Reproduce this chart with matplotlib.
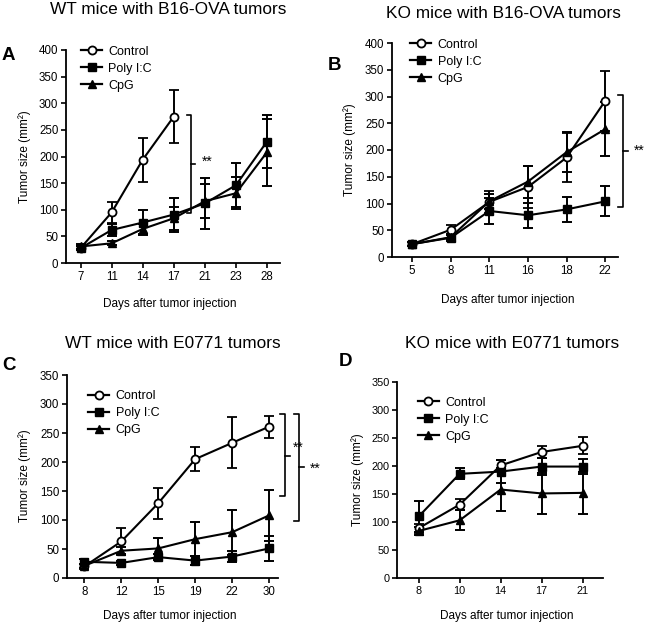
import matplotlib
matplotlib.use("Agg")
import matplotlib.pyplot as plt
from matplotlib.lines import Line2D
import numpy as np

plt.rcParams['font.family'] = ['Liberation Sans', 'DejaVu Sans']

# ---- Panel A: WT mice with B16-OVA tumors ----
days_a = [7, 11, 14, 17, 21, 23, 28]
ctrl_a = [28, 95, 194, 275]
ctrl_a_err = [4, 20, 41, 49]
poly_a = [28, 62, 76, 91, 112, 146, 228]
poly_a_err = [4, 12, 23, 32, 48, 41, 50]
cpg_a = [31, 37, 64, 84, 116, 131, 208]
cpg_a_err = [4, 4, 10, 22, 32, 30, 63]

# ---- Panel B: KO mice with B16-OVA tumors ----
days_b = [5, 8, 11, 16, 18, 22]
ctrl_b = [24, 51, 103, 131, 186, 292]
ctrl_b_err = [4, 8, 20, 40, 45, 56]
poly_b = [24, 36, 86, 78, 89, 104]
poly_b_err = [4, 6, 25, 23, 24, 28]
cpg_b = [24, 37, 104, 141, 196, 239]
cpg_b_err = [4, 6, 14, 30, 38, 50]

# ---- Panel C: WT mice with E0771 tumors ----
days_c = [8, 12, 15, 19, 22, 30]
ctrl_c = [20, 63, 129, 205, 233, 261]
ctrl_c_err = [4, 24, 27, 21, 44, 19]
poly_c = [28, 26, 36, 30, 37, 51]
poly_c_err = [4, 3, 5, 8, 10, 22]
cpg_c = [21, 47, 51, 67, 79, 108]
cpg_c_err = [4, 6, 18, 29, 39, 44]

# ---- Panel D: KO mice with E0771 tumors ----
days_d = [8, 10, 14, 17, 21]
ctrl_d = [89, 131, 201, 225, 236]
ctrl_d_err = [8, 10, 10, 11, 15]
poly_d = [110, 186, 190, 199, 199]
poly_d_err = [27, 10, 20, 15, 14]
cpg_d = [84, 103, 158, 151, 152]
cpg_d_err = [7, 18, 38, 37, 38]

series_names = ["Control", "Poly I:C", "CpG"]
titles = ["WT mice with B16-OVA tumors", "KO mice with B16-OVA tumors",
          "WT mice with E0771 tumors", "KO mice with E0771 tumors"]
panel_letters = ["A", "B", "C", "D"]
xlabel_text = "Days after tumor injection"
ylabel_text = "Tumor size (mm²)"

W, H = 650, 624
fig = plt.figure(figsize=(W / 100, H / 100), dpi=100)

STYLES = [dict(marker='o', mfc='white', mec='black', ms=5.8, mew=1.3),
          dict(marker='s', mfc='black', mec='black', ms=5.2),
          dict(marker='^', mfc='black', mec='black', ms=5.4)]


def ax_at(left, right, top, bottom):
    return fig.add_axes([left / W, 1 - bottom / H, (right - left) / W, (bottom - top) / H])


def draw_panel(ax, days, data, ymax, xlim, legend_anchor, tick_fs=8.3):
    x = np.arange(len(days))
    for (vals, errs), st in zip(data, STYLES):
        xx = x[:len(vals)]
        ax.errorbar(xx, vals, yerr=errs, color='black', lw=1.5, elinewidth=1.4,
                    capsize=3.6, capthick=1.4, clip_on=False, zorder=3, **st)
    ax.set_xticks(x)
    ax.set_xticklabels([str(d) for d in days])
    ax.set_xlim(*xlim)
    ax.set_ylim(0, ymax)
    ax.set_yticks(np.arange(0, ymax + 1, 50))
    for s in ['top', 'right']:
        ax.spines[s].set_visible(False)
    for s in ['left', 'bottom']:
        ax.spines[s].set_linewidth(1.3)
    ax.tick_params(direction='out', length=3.5, width=1.2, labelsize=tick_fs, pad=2)
    handles = [Line2D([], [], color='black', lw=1.6, **st) for st in STYLES]
    ax.legend(handles, series_names, loc='upper left', bbox_to_anchor=legend_anchor,
              frameon=False, fontsize=9, handlelength=1.7, handletextpad=0.5,
              labelspacing=0.4, borderaxespad=0, borderpad=0)


def bracket(ax, xpos, y0, y1, ymid, tick=0.13, midtick=0.13, star_dx=0.25, star_y=None):
    kw = dict(color='black', lw=1.2, clip_on=False)
    ax.plot([xpos - tick, xpos, xpos, xpos - tick], [y1, y1, y0, y0], **kw)
    ax.plot([xpos, xpos + midtick], [ymid, ymid], **kw)
    ax.text(xpos + star_dx, ymid if star_y is None else star_y, "**", fontsize=10,
            ha='left', va='center', clip_on=False)


# Panel A
axA = ax_at(66, 280, 50, 263)
draw_panel(axA, days_a, [(ctrl_a, ctrl_a_err), (poly_a, poly_a_err), (cpg_a, cpg_a_err)],
           400, (-0.47, 6.42), (0.07, 1.02))
bracket(axA, 3.56, 94, 278, 186, star_dx=0.35, star_y=190)

# Panel B
axB = ax_at(392, 618, 43, 257)
draw_panel(axB, days_b, [(ctrl_b, ctrl_b_err), (poly_b, poly_b_err), (cpg_b, cpg_b_err)],
           400, (-0.52, 5.33), (0.08, 1.02))
bracket(axB, 5.45, 93, 303, 199, star_dx=0.3)

# Panel C
axC = ax_at(67, 278, 375, 578)
draw_panel(axC, days_c, [(ctrl_c, ctrl_c_err), (poly_c, poly_c_err), (cpg_c, cpg_c_err)],
           350, (-0.47, 5.24), (0.10, 0.925))
bracket(axC, 5.43, 141, 283, 211, star_dx=0.2, star_y=224)
bracket(axC, 5.81, 99, 283, 191, star_dx=0.3, star_y=189)

# Panel D
axD = ax_at(397, 603, 382, 578)
draw_panel(axD, days_d, [(ctrl_d, ctrl_d_err), (poly_d, poly_d_err), (cpg_d, cpg_d_err)],
           350, (-0.53, 4.5), (0.10, 0.925), tick_fs=7.8)

# axis labels
for (xc, yc) in [(170, 304), (508, 300), (170, 616), (507, 616)]:
    fig.text(xc / W, 1 - yc / H, xlabel_text, fontsize=8.5, ha='center', va='center')
for (xc, yc) in [(25, 157), (350, 150), (25, 476), (358, 480)]:
    fig.text(xc / W, 1 - yc / H, ylabel_text, fontsize=8.5, ha='center', va='center',
             rotation=90)

# titles and letters
fig.text(168 / W, 1 - 10 / H, titles[0], fontsize=12.4, ha='center', va='center')
fig.text(503 / W, 1 - 13 / H, titles[1], fontsize=12.4, ha='center', va='center')
fig.text(173 / W, 1 - 344 / H, titles[2], fontsize=12.4, ha='center', va='center')
fig.text(512 / W, 1 - 344 / H, titles[3], fontsize=12.4, ha='center', va='center')

fig.text(8 / W, 1 - 56 / H, panel_letters[0], fontsize=13.5, fontweight='bold', ha='center', va='center')
fig.text(335 / W, 1 - 65 / H, panel_letters[1], fontsize=13.5, fontweight='bold', ha='center', va='center')
fig.text(9 / W, 1 - 365 / H, panel_letters[2], fontsize=13.5, fontweight='bold', ha='center', va='center')
fig.text(345 / W, 1 - 361 / H, panel_letters[3], fontsize=13.5, fontweight='bold', ha='center', va='center')

fig.savefig("out.png", dpi=100)
